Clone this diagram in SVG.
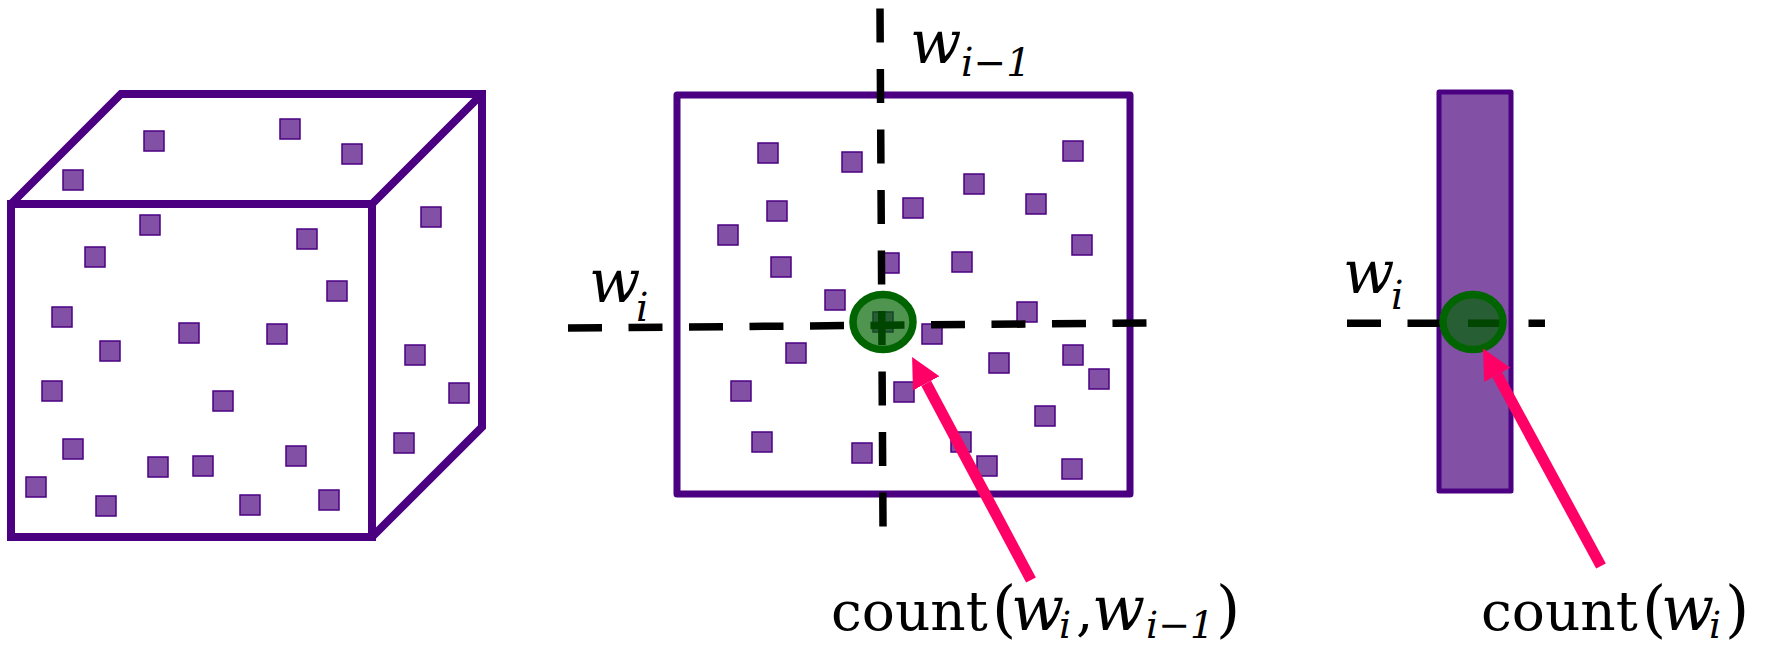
<svg xmlns="http://www.w3.org/2000/svg" width="1773" height="647" viewBox="0 0 1773 647">
  <style>
    .frame { fill: none; stroke: #4b0082; stroke-width: 8; stroke-linejoin: miter; }
    .sq { fill: #8250a5; stroke: #4b0082; stroke-width: 1.5; }
    .axis { fill: none; stroke: #000; stroke-width: 7.5; stroke-dasharray: 34 26.5; }
    .hit { fill: #006400; fill-opacity: 0.69; stroke: #006400; stroke-width: 7.5; }
    .arrow { fill: none; stroke: #ff0066; stroke-width: 11; marker-end: url(#head); }
    .lbl { font-family: "DejaVu Serif", "Liberation Serif", serif; fill: #000; }
    .it { font-style: italic; }
  </style>
  <defs>
    <marker id="head" markerUnits="userSpaceOnUse" viewBox="0 0 30 30" markerWidth="30" markerHeight="30" refX="0" refY="15" orient="auto">
      <path d="M0,0 L30,15 L0,30 z" fill="#ff0066"/>
    </marker>
    <rect id="s" width="20" height="20" class="sq"/>
  </defs>
  <rect width="1773" height="647" fill="#fff"/>

  <g id="cube">
    <rect x="11" y="204" width="361" height="333" class="frame"/>
    <path d="M11,204 L121,94 L482,94 L482,427 L372,537 M482,94 L372,204" class="frame"/>
    <use href="#s" x="144" y="131"/>
    <use href="#s" x="280" y="119"/>
    <use href="#s" x="342" y="144"/>
    <use href="#s" x="63" y="170"/>
    <use href="#s" x="140" y="215"/>
    <use href="#s" x="297" y="229"/>
    <use href="#s" x="85" y="247"/>
    <use href="#s" x="327" y="281"/>
    <use href="#s" x="52" y="307"/>
    <use href="#s" x="179" y="323"/>
    <use href="#s" x="267" y="324"/>
    <use href="#s" x="100" y="341"/>
    <use href="#s" x="42" y="381"/>
    <use href="#s" x="213" y="391"/>
    <use href="#s" x="63" y="439"/>
    <use href="#s" x="286" y="446"/>
    <use href="#s" x="148" y="457"/>
    <use href="#s" x="193" y="456"/>
    <use href="#s" x="26" y="477"/>
    <use href="#s" x="96" y="496"/>
    <use href="#s" x="240" y="495"/>
    <use href="#s" x="319" y="490"/>
    <use href="#s" x="421" y="207"/>
    <use href="#s" x="405" y="345"/>
    <use href="#s" x="449" y="383"/>
    <use href="#s" x="394" y="433"/>
  </g>

  <g id="bigram-grid">
    <rect x="677" y="95" width="453" height="399" fill="none" stroke="#4b0082" stroke-width="7" stroke-linejoin="round"/>
    <use href="#s" x="758" y="143"/>
    <use href="#s" x="842" y="152"/>
    <use href="#s" x="1063" y="141"/>
    <use href="#s" x="964" y="174"/>
    <use href="#s" x="767" y="201"/>
    <use href="#s" x="903" y="198"/>
    <use href="#s" x="1026" y="194"/>
    <use href="#s" x="718" y="225"/>
    <use href="#s" x="1072" y="235"/>
    <use href="#s" x="771" y="257"/>
    <use href="#s" x="879" y="253"/>
    <use href="#s" x="952" y="252"/>
    <use href="#s" x="825" y="290"/>
    <use href="#s" x="1017" y="302"/>
    <use href="#s" x="922" y="324"/>
    <use href="#s" x="786" y="343"/>
    <use href="#s" x="1063" y="345"/>
    <use href="#s" x="989" y="353"/>
    <use href="#s" x="1089" y="369"/>
    <use href="#s" x="731" y="381"/>
    <use href="#s" x="894" y="382"/>
    <use href="#s" x="1035" y="406"/>
    <use href="#s" x="752" y="432"/>
    <use href="#s" x="951" y="432"/>
    <use href="#s" x="852" y="443"/>
    <use href="#s" x="977" y="456"/>
    <use href="#s" x="1062" y="459"/>
    <use href="#s" x="873" y="312"/>
  </g>

  <g id="unigram-bar">
    <rect x="1439" y="92" width="72" height="399" fill="#8250a5" stroke="#4b0082" stroke-width="5" stroke-linejoin="round"/>
  </g>

  <g id="connectors">
    <line x1="880" y1="8.5" x2="883" y2="527" class="axis"/>
    <line x1="568" y1="328" x2="1147" y2="323" class="axis"/>
    <line x1="1347" y1="323.3" x2="1545" y2="323.3" class="axis"/>
    <ellipse cx="883" cy="322" rx="30" ry="27.5" class="hit"/>
    <ellipse cx="1473" cy="322" rx="30" ry="27.5" class="hit"/>
    <line x1="1031" y1="580" x2="926.2" y2="383.4" class="arrow"/>
    <line x1="1601" y1="566" x2="1497.3" y2="374.9" class="arrow"/>
  </g>

  <g id="labels" class="lbl">
    <text font-size="60"><tspan class="it" x="910" y="63">w</tspan><tspan class="it" font-size="39" x="961" y="76">i−1</tspan></text>
    <text font-size="60"><tspan class="it" x="589" y="302">w</tspan><tspan class="it" font-size="39" x="636" y="321">i</tspan></text>
    <text font-size="60"><tspan class="it" x="1343" y="293">w</tspan><tspan class="it" font-size="39" x="1391" y="309">i</tspan></text>
    <text font-size="55"><tspan x="831" y="630">count</tspan><tspan x="992" y="630" font-size="62">(</tspan><tspan class="it" x="1011" y="630" font-size="62">w</tspan><tspan class="it" font-size="38" x="1059" y="638">i</tspan><tspan x="1076" y="630">,</tspan><tspan class="it" x="1092" y="630" font-size="62">w</tspan><tspan class="it" font-size="38" x="1146" y="638">i−1</tspan><tspan x="1216" y="630" font-size="62">)</tspan></text>
    <text font-size="55"><tspan x="1481" y="630">count</tspan><tspan x="1642" y="630" font-size="62">(</tspan><tspan class="it" x="1661" y="630" font-size="62">w</tspan><tspan class="it" font-size="38" x="1709" y="638">i</tspan><tspan x="1725" y="630" font-size="62">)</tspan></text>
  </g>
</svg>
